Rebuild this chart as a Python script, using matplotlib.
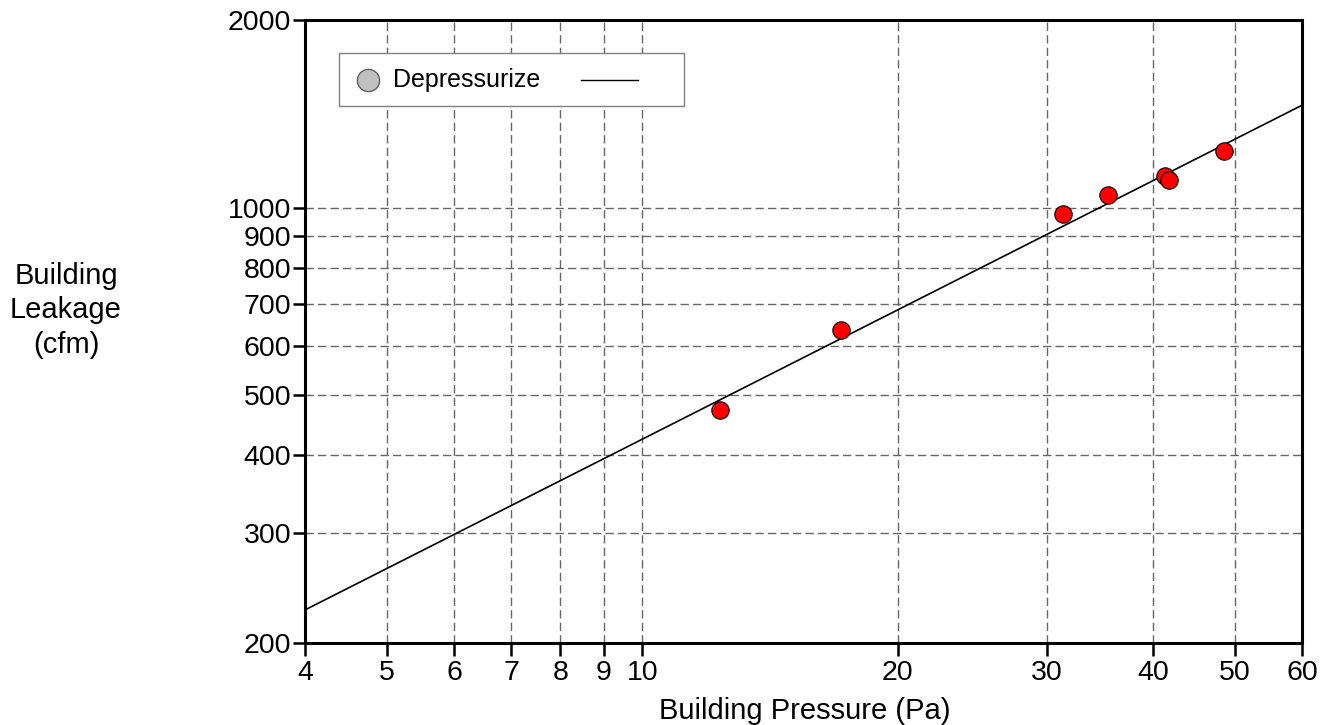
import matplotlib
matplotlib.use("Agg")
import matplotlib.pyplot as plt
from matplotlib.ticker import FixedLocator, NullLocator, FixedFormatter
from matplotlib.patches import Rectangle
from matplotlib.lines import Line2D

plt.rcParams['font.family'] = ['Liberation Sans', 'DejaVu Sans']

# measured points (Pa, cfm)
pressure = [12.35, 17.15, 31.3, 35.4, 41.3, 41.8, 48.5]
leakage = [473, 636, 975, 1048, 1125, 1107, 1234]

# fit line read at the axis edges
fit_x = [4, 60]
fit_y = [226, 1460]

x_ticks = [4, 5, 6, 7, 8, 9, 10, 20, 30, 40, 50, 60]
y_ticks = [200, 300, 400, 500, 600, 700, 800, 900, 1000, 2000]
x_grid = [5, 6, 7, 8, 9, 10, 20, 30, 40, 50]
y_grid = [300, 400, 500, 600, 700, 800, 900, 1000]

fig = plt.figure(figsize=(13.26, 7.25), dpi=100)
ax = fig.add_axes([0.230, 0.1131, 0.752, 0.8593])
ax.set_xscale('log')
ax.set_yscale('log')
ax.set_xlim(4, 60)
ax.set_ylim(200, 2000)

ax.xaxis.set_major_locator(FixedLocator(x_ticks))
ax.xaxis.set_major_formatter(FixedFormatter([str(v) for v in x_ticks]))
ax.xaxis.set_minor_locator(NullLocator())
ax.yaxis.set_major_locator(FixedLocator(y_ticks))
ax.yaxis.set_major_formatter(FixedFormatter([str(v) for v in y_ticks]))
ax.yaxis.set_minor_locator(NullLocator())

for v in x_grid:
    ax.axvline(v, color='#666666', lw=1, ls=(0, (6, 3)), zorder=1)
for v in y_grid:
    ax.axhline(v, color='#666666', lw=1, ls=(0, (6, 3)), zorder=1)

ax.plot(fit_x, fit_y, color='black', lw=1.2, zorder=3)
ax.plot(pressure, leakage, 'o', ms=12.5, mfc='red', mec='black', mew=0.8, zorder=4)

ax.tick_params(axis='both', which='major', labelsize=20.5, length=9, width=1.8,
               direction='out', color='black')
ax.tick_params(axis='x', pad=3)
ax.tick_params(axis='y', pad=1)
for s in ax.spines.values():
    s.set_linewidth(2.2)

# legend box drawn by hand: marker, label, then line sample
ax.add_patch(Rectangle((0.0341, 0.862), 0.346, 0.085, transform=ax.transAxes,
                       facecolor='white', edgecolor='#808080', lw=1, zorder=5))
ax.add_line(Line2D([0.0632], [0.9045], transform=ax.transAxes, marker='o', ms=16,
                   mfc='#c0c0c0', mec='#606060', mew=1, zorder=6))
ax.text(0.0883, 0.9045, 'Depressurize', transform=ax.transAxes, fontsize=18,
        va='center', ha='left', zorder=6)
ax.add_line(Line2D([0.2768, 0.334], [0.9045, 0.9045], transform=ax.transAxes,
                   color='black', lw=1, zorder=6))

fig.text(805 / 1326, 1 - 719 / 725, 'Building Pressure (Pa)', fontsize=21,
         ha='center', va='baseline')
for line, base in zip(['Building', 'Leakage', '(cfm)'], [284, 318, 353]):
    fig.text(66 / 1326, 1 - base / 725, line, fontsize=21, ha='center', va='baseline')

fig.savefig('out.png', dpi=100)
